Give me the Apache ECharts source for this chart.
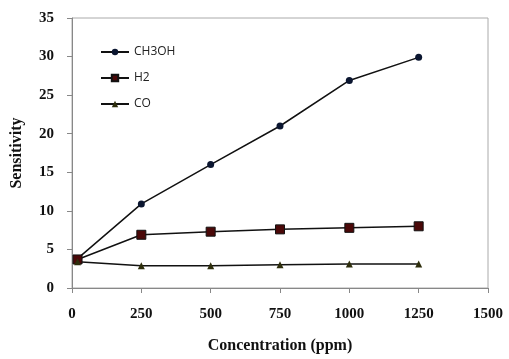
<!DOCTYPE html>
<html>
<head>
<meta charset="utf-8">
<script src="https://cdn.jsdelivr.net/npm/echarts@6/dist/echarts.min.js"></script>
<style>
  html, body { margin: 0; padding: 0; background: #fff; }
  #chart { width: 509px; height: 359px; }
</style>
</head>
<body>
<div id="chart"></div>
<script>
const concentration = [20, 250, 500, 750, 1000, 1250]
const ch3oh = [3.8, 10.9, 16.0, 21.0, 26.9, 29.9]
const h2 = [3.7, 6.9, 7.3, 7.6, 7.8, 8.0]
const co = [3.4, 2.9, 2.9, 3.0, 3.1, 3.1]

const pairs = ys => concentration.map((x, i) => [x, ys[i]])

const serif = '"Liberation Serif", "Times New Roman", serif'
const axisLabel = {
  fontFamily: serif, fontWeight: 'bold', fontSize: 15, color: '#111',
  formatter: v => String(v),
}
const axisName = { fontFamily: serif, fontWeight: 'bold', fontSize: 16, color: '#111' }

const chart = echarts.init(document.getElementById('chart'))
chart.setOption({
  animation: false,
  backgroundColor: '#fff',
  grid: {
    left: 72, right: 21, top: 18, bottom: 69,
    show: true, borderColor: '#aaa', borderWidth: 1,
  },
  legend: {
    orient: 'vertical',
    left: 100,
    top: 46,
    padding: 0,
    itemWidth: 28,
    itemHeight: 8,
    itemGap: 14,
    textStyle: { fontFamily: '"Open Sans", sans-serif', fontSize: 12, color: '#222' },
    data: ['CH3OH', 'H2', 'CO'],
  },
  xAxis: {
    type: 'value',
    min: 0, max: 1500, interval: 250,
    name: 'Concentration (ppm)',
    nameLocation: 'middle',
    nameGap: 50,
    nameTextStyle: axisName,
    axisLine: { show: true, lineStyle: { color: '#888' } },
    axisTick: { show: true, length: 5, lineStyle: { color: '#888' } },
    axisLabel: { ...axisLabel, margin: 19 },
    splitLine: { show: false },
  },
  yAxis: {
    type: 'value',
    min: 0, max: 35, interval: 5,
    name: 'Sensitivity',
    nameLocation: 'middle',
    nameGap: 47,
    nameTextStyle: axisName,
    axisLine: { show: true, lineStyle: { color: '#888' } },
    axisTick: { show: true, length: 5, lineStyle: { color: '#888' } },
    axisLabel: { ...axisLabel, margin: 18 },
    splitLine: { show: false },
  },
  series: [
    {
      name: 'CH3OH',
      type: 'line',
      data: pairs(ch3oh),
      symbol: 'circle',
      symbolSize: 7,
      itemStyle: { color: '#0b1630' },
      lineStyle: { color: '#111', width: 1.5 },
    },
    {
      name: 'H2',
      type: 'line',
      data: pairs(h2),
      symbol: 'rect',
      symbolSize: 9,
      itemStyle: { color: '#4a0808', borderColor: '#111', borderWidth: 1 },
      lineStyle: { color: '#111', width: 1.5 },
    },
    {
      name: 'CO',
      type: 'line',
      data: pairs(co),
      symbol: 'triangle',
      symbolSize: 7,
      itemStyle: { color: '#2e2e0c' },
      lineStyle: { color: '#111', width: 1.5 },
    },
  ],
})
</script>
</body>
</html>
